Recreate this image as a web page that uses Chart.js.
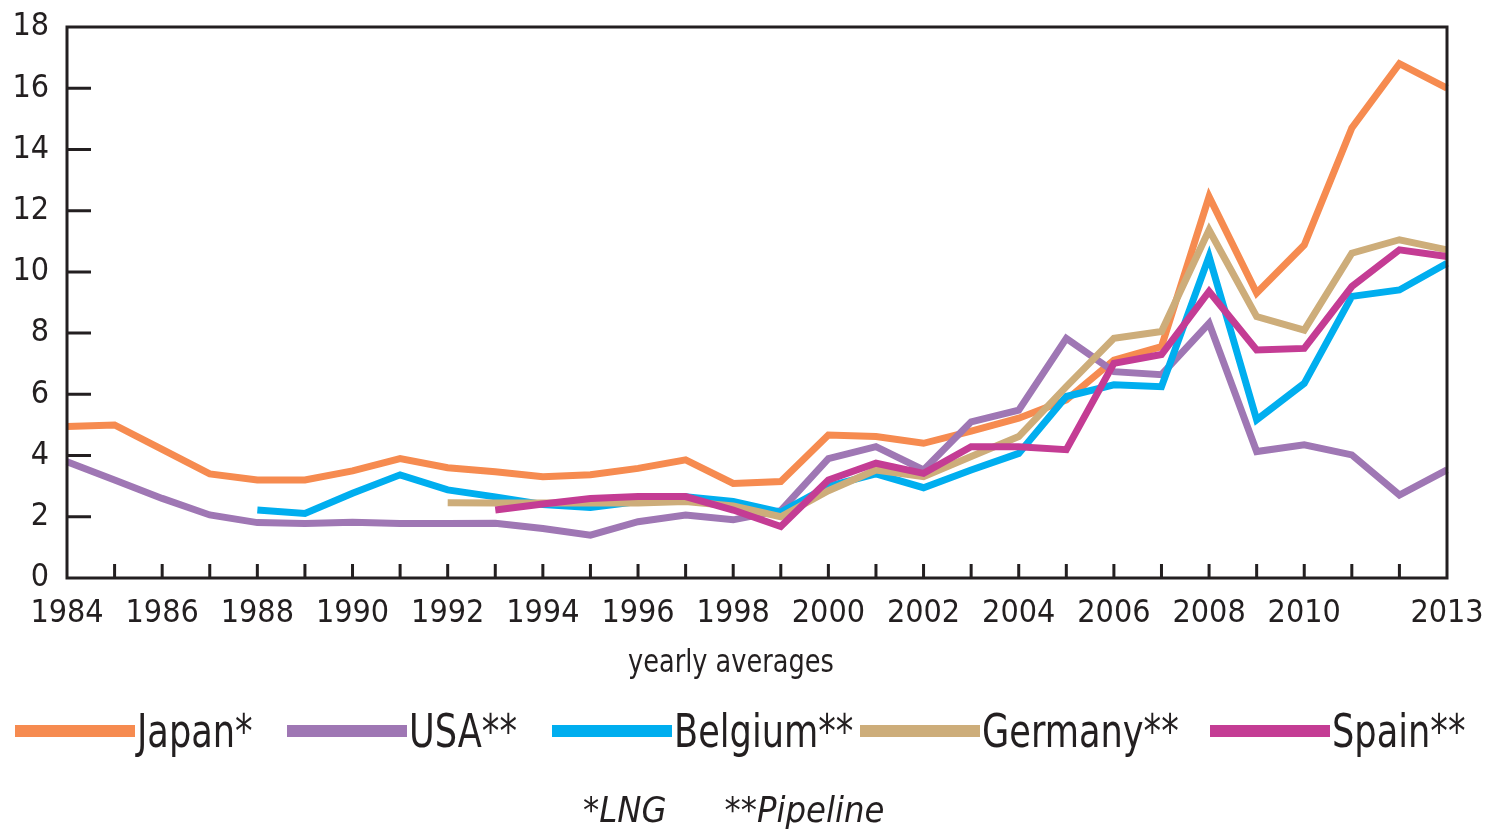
<!DOCTYPE html>
<html>
<head>
<meta charset="utf-8">
<script src="https://cdn.jsdelivr.net/npm/chart.js@4.4.1/dist/chart.umd.min.js"></script>
<style>
  html, body { margin: 0; padding: 0; background: #fff; }
  #wrap { position: relative; width: 1485px; height: 833px; overflow: hidden; }
  #c { position: absolute; left: 0; top: 0; }
  .txt { font-family: 'Liberation Sans Narrow', 'DejaVu Sans Condensed', 'Arial Narrow', sans-serif; color: #231f20; }
  #xtitle { position: absolute; left: 628px; top: 642px; font-size: 32px; white-space: nowrap; }
  #xtitle span { display: inline-block; transform: scaleX(0.89); transform-origin: left center; }
  #legend { position: absolute; left: 0; top: 705px; width: 1485px; height: 52px; font-size: 46px; white-space: nowrap; }
  .item { position: absolute; top: 0; display: flex; align-items: center; height: 52px; }
  .sw { width: 120px; height: 12px; margin-right: 2px; flex: none; }
  .lt { display: inline-block; transform: scaleX(0.85); transform-origin: left center; }
  #foot { position: absolute; top: 789px; left: 583px; font-size: 36px; font-style: italic; white-space: nowrap; }
  #foot span + span { margin-left: 58px; }
</style>
</head>
<body>
<div id="wrap">
  <canvas id="c" width="1485" height="833"></canvas>
  <div id="xtitle" class="txt"><span>yearly averages</span></div>
  <div id="legend" class="txt"></div>
  <div id="foot" class="txt"><span>*LNG</span><span>**Pipeline</span></div>
</div>
<script>
const years = ['1984','1985','1986','1987','1988','1989','1990','1991','1992','1993','1994','1995','1996','1997','1998','1999','2000','2001','2002','2003','2004','2005','2006','2007','2008','2009','2010','2011','2012','2013'];
const xTickLabels = ['1984','1986','1988','1990','1992','1994','1996','1998','2000','2002','2004','2006','2008','2010','2013'];
const yTickValues = [0,2,4,6,8,10,12,14,16,18];

const seriesNames = ['Japan*','USA**','Belgium**','Germany**','Spain**'];
const seriesColors = ['#f68b50','#9f77b4','#00aeef','#cdad7a','#c43c94'];

const japan   = [4.95,5.0,4.2,3.4,3.2,3.2,3.5,3.9,3.6,3.47,3.31,3.37,3.58,3.86,3.09,3.15,4.67,4.62,4.4,4.8,5.22,5.82,7.12,7.56,12.46,9.31,10.88,14.7,16.8,16.0];
const usa     = [3.8,3.2,2.6,2.06,1.81,1.78,1.82,1.78,1.78,1.79,1.62,1.4,1.84,2.06,1.9,2.2,3.9,4.29,3.53,5.1,5.48,7.83,6.74,6.64,8.32,4.13,4.35,4.02,2.71,3.53];
const belgium = [null,null,null,null,2.22,2.11,2.77,3.37,2.88,2.65,2.4,2.3,2.5,2.65,2.5,2.15,3.0,3.4,2.95,3.53,4.07,5.93,6.31,6.25,10.5,5.17,6.36,9.2,9.41,10.28];
const germany = [null,null,null,null,null,null,null,null,2.46,2.45,2.45,2.45,2.45,2.5,2.35,2.0,2.85,3.53,3.31,3.97,4.62,6.25,7.83,8.05,11.37,8.54,8.1,10.61,11.05,10.72];
const spain   = [null,null,null,null,null,null,null,null,null,2.22,2.42,2.6,2.66,2.66,2.22,1.68,3.2,3.75,3.42,4.29,4.29,4.19,7.01,7.3,9.36,7.45,7.5,9.52,10.72,10.5];

const seriesData = [japan, usa, belgium, germany, spain];
const drawOrder = [4,3,2,1,0];

const FONT = "'Liberation Sans Narrow', 'DejaVu Sans Condensed', 'Arial Narrow', sans-serif";
const INK = '#231f20';

const frame = {
  id: 'frame',
  afterDatasetsDraw(chart) {
    const { ctx, chartArea: a, scales: { x, y } } = chart;
    ctx.save();
    ctx.strokeStyle = INK;
    ctx.lineWidth = 3;
    ctx.strokeRect(a.left, a.top, a.right - a.left, a.bottom - a.top);
    ctx.beginPath();
    years.forEach((yr, i) => {
      if (i === 0 || i === years.length - 1) return;
      const px = x.getPixelForValue(i);
      ctx.moveTo(px, a.bottom);
      ctx.lineTo(px, a.bottom - 14);
    });
    yTickValues.forEach(v => {
      if (v === 0 || v === 18) return;
      const py = y.getPixelForValue(v);
      ctx.moveTo(a.left, py);
      ctx.lineTo(a.left + 24, py);
    });
    ctx.stroke();
    ctx.restore();
  }
};

new Chart(document.getElementById('c'), {
  type: 'line',
  data: {
    labels: years,
    datasets: seriesNames.map((n, i) => ({
      label: n,
      data: seriesData[i],
      borderColor: seriesColors[i],
      backgroundColor: seriesColors[i],
      borderWidth: 7,
      pointRadius: 0,
      tension: 0,
      fill: false,
      spanGaps: false,
      order: drawOrder[i],
      borderJoinStyle: 'miter'
    }))
  },
  options: {
    responsive: false,
    animation: false,
    layout: { padding: { top: 27, right: 38, left: 0, bottom: 150 } },
    plugins: { legend: { display: false }, tooltip: { enabled: false } },
    scales: {
      x: {
        grid: { display: false, drawTicks: false },
        border: { display: false },
        ticks: {
          autoSkip: false, maxRotation: 0, minRotation: 0, padding: 16,
          color: INK, font: { family: FONT, size: 32 },
          callback: function(v, i) { const l = years[i]; return xTickLabels.includes(l) ? l : ''; }
        },
        afterFit: s => { s.height = 105; s.paddingLeft = 0; s.paddingRight = 0; }
      },
      y: {
        min: 0, max: 18,
        grid: { display: false, drawTicks: false },
        border: { display: false },
        afterBuildTicks: s => { s.ticks = yTickValues.map(v => ({ value: v })); },
        ticks: { padding: 18, color: INK, font: { family: FONT, size: 32 } },
        afterFit: s => { s.width = 67; s.paddingTop = 0; s.paddingBottom = 0; }
      }
    }
  },
  plugins: [frame]
});

const legendLeft = [15, 287, 552, 860, 1210];
const lg = document.getElementById('legend');
seriesNames.forEach((n, i) => {
  const it = document.createElement('div');
  it.className = 'item';
  it.style.left = legendLeft[i] + 'px';
  it.innerHTML = '<div class="sw" style="background:' + seriesColors[i] + '"></div><span class="lt">' + n + '</span>';
  lg.appendChild(it);
});
</script>
</body>
</html>
